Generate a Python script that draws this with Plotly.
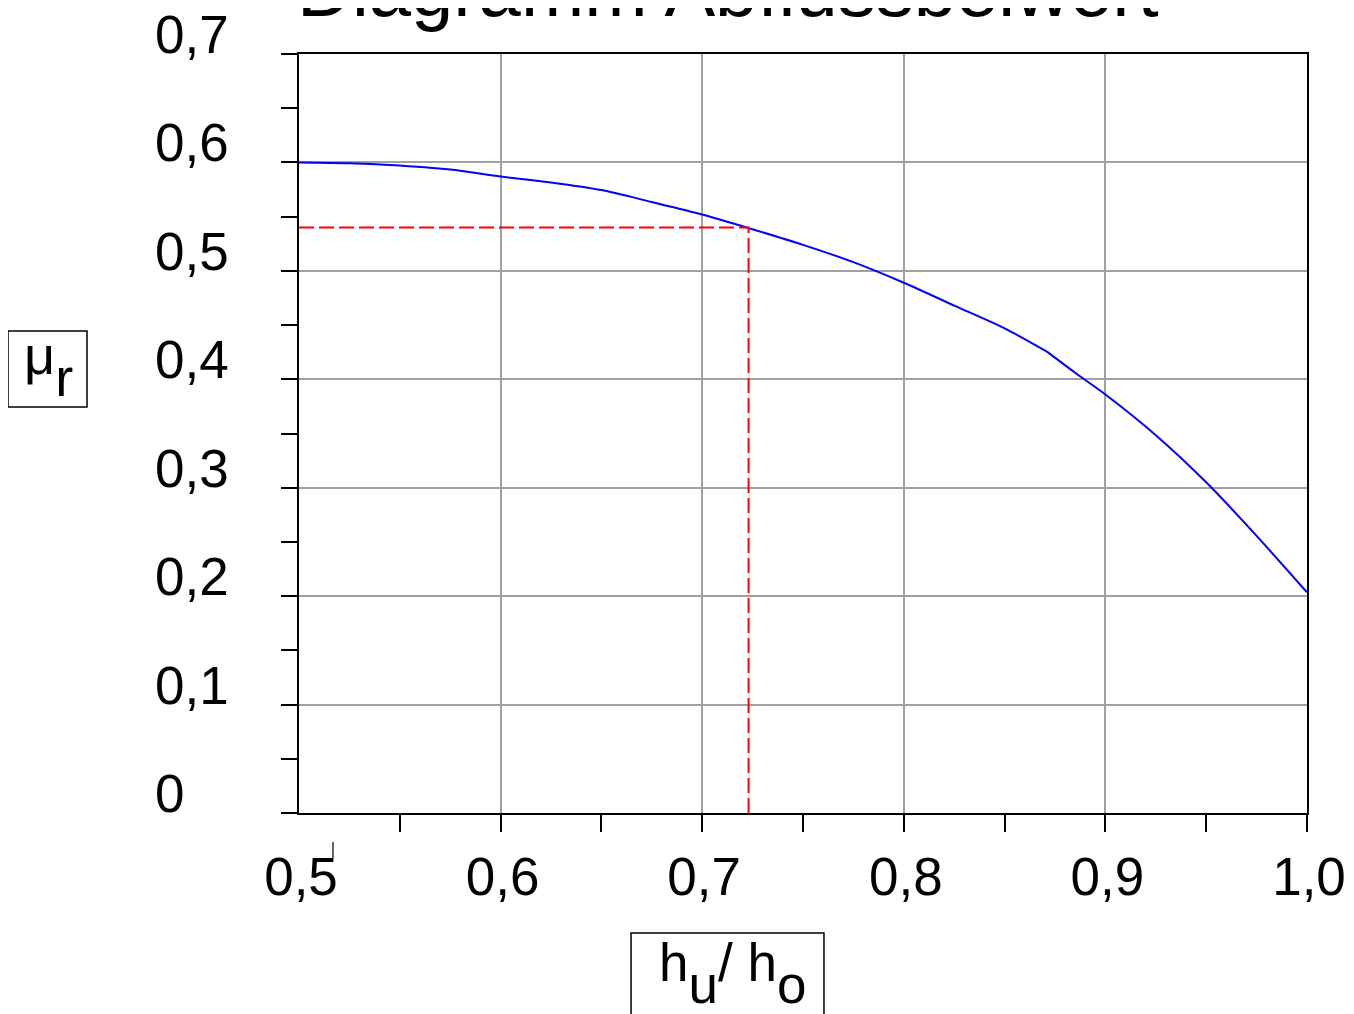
import plotly.graph_objects as go

# ---- data ----
hu_ho = [0.5, 0.525, 0.545, 0.575, 0.6, 0.625, 0.65, 0.675, 0.7, 0.722, 0.75, 0.775,
         0.8, 0.825, 0.85, 0.871, 0.885, 0.9, 0.925, 0.95, 0.975, 1.0]
mu_r = [0.600, 0.5993, 0.5977, 0.5935, 0.587, 0.5815, 0.5745, 0.5635, 0.552, 0.540,
        0.524, 0.508, 0.489, 0.468, 0.447, 0.4255, 0.406, 0.386, 0.3485, 0.305,
        0.2556, 0.2035]
kink_index = 15  # the curve has a visible bend at h_u/h_o = 0.871

read_x = 0.723
read_y = 0.54

x_ticks = [0.5, 0.6, 0.7, 0.8, 0.9, 1.0]
x_ticktext = ["0,5", "0,6", "0,7", "0,8", "0,9", "1,0"]
x_minor = [0.55, 0.6, 0.65, 0.7, 0.75, 0.8, 0.85, 0.9, 0.95, 1.0]
y_ticks = [0, 0.1, 0.2, 0.3, 0.4, 0.5, 0.6, 0.7]
y_ticktext = ["0", "0,1", "0,2", "0,3", "0,4", "0,5", "0,6", "0,7"]

title_text = "Diagramm Abflussbeiwert"
SUB = "<span style='baseline-shift:-22px'>{}</span>"
x_title = "h" + SUB.format("u") + "/ h" + SUB.format("o")
y_title = "μ" + SUB.format("r")

FONT = "Liberation Sans, Arial, sans-serif"
BLACK = "black"

fig = go.Figure()
for sl in (slice(0, kink_index + 1), slice(kink_index, None)):
    fig.add_trace(go.Scatter(x=hu_ho[sl], y=mu_r[sl], mode="lines",
                             line=dict(color="#0000ff", width=2, shape="spline",
                                       smoothing=0.8),
                             showlegend=False))
fig.add_trace(go.Scatter(x=[0.5, read_x, read_x], y=[read_y, read_y, 0], mode="lines",
                         line=dict(color="#ff0000", width=2, dash="15px,5px"),
                         showlegend=False))

annotations = []
for v, t in zip(y_ticks, y_ticktext):
    annotations.append(dict(x=-0.1448, xref="paper", y=v, yref="y", text=t,
                            showarrow=False, xanchor="left", yanchor="top",
                            yshift=51, font=dict(family=FONT, size=53, color=BLACK)))
annotations.append(dict(x=0.4251, xref="paper", y=1.1436, yref="paper", text=title_text,
                        showarrow=False, xanchor="center", yanchor="top",
                        font=dict(family=FONT, size=76, color=BLACK)))
annotations.append(dict(x=-0.2748, xref="paper", y=0.6456, yref="paper", text=y_title,
                        showarrow=False, xanchor="left", yanchor="top",
                        font=dict(family=FONT, size=54, color=BLACK)))
annotations.append(dict(x=0.3552, xref="paper", y=-0.1555, yref="paper", text=x_title,
                        showarrow=False, xanchor="left", yanchor="top",
                        font=dict(family=FONT, size=53, color=BLACK)))

shapes = [
    dict(type="rect", xref="paper", yref="paper", x0=-0.2887, x1=-0.2103,
         y0=0.5349, y1=0.6350, line=dict(color=BLACK, width=1.5)),
    dict(type="rect", xref="paper", yref="paper", x0=0.3294, x1=0.5208,
         y0=-0.2793, y1=-0.1581, line=dict(color=BLACK, width=1.5)),
    dict(type="line", xref="paper", yref="paper", x0=0.0337, x1=0.0337,
         y0=-0.0382, y1=-0.0593, line=dict(color="#333333", width=1.5)),
]

fig.update_layout(
    width=1354, height=1014,
    margin=dict(l=291, r=55, t=46, b=209, autoexpand=False),
    paper_bgcolor="white", plot_bgcolor="white",
    annotations=annotations, shapes=shapes,
)
fig.update_xaxes(range=[0.5, 1.0], tickmode="array", tickvals=x_ticks, ticktext=x_ticktext,
                 ticks="", showgrid=True, gridcolor="#a0a0a0", gridwidth=2,
                 showline=True, linecolor=BLACK, linewidth=2, mirror=True,
                 zeroline=False, ticklabelstandoff=16, ticklabelshift=2,
                 tickfont=dict(family=FONT, size=53, color=BLACK),
                 minor=dict(tickmode="array", tickvals=x_minor, ticks="outside",
                            ticklen=17, tickwidth=2, tickcolor=BLACK, showgrid=False))
fig.update_yaxes(range=[0, 0.7], tickmode="array", tickvals=y_ticks, showticklabels=False,
                 ticks="outside", ticklen=16, tickwidth=2, tickcolor=BLACK,
                 showgrid=True, gridcolor="#a0a0a0", gridwidth=2,
                 showline=True, linecolor=BLACK, linewidth=2, mirror=True, zeroline=False,
                 minor=dict(dtick=0.05, ticks="outside", ticklen=16, tickwidth=2,
                            tickcolor=BLACK, showgrid=False))

fig.write_html("out.html")
